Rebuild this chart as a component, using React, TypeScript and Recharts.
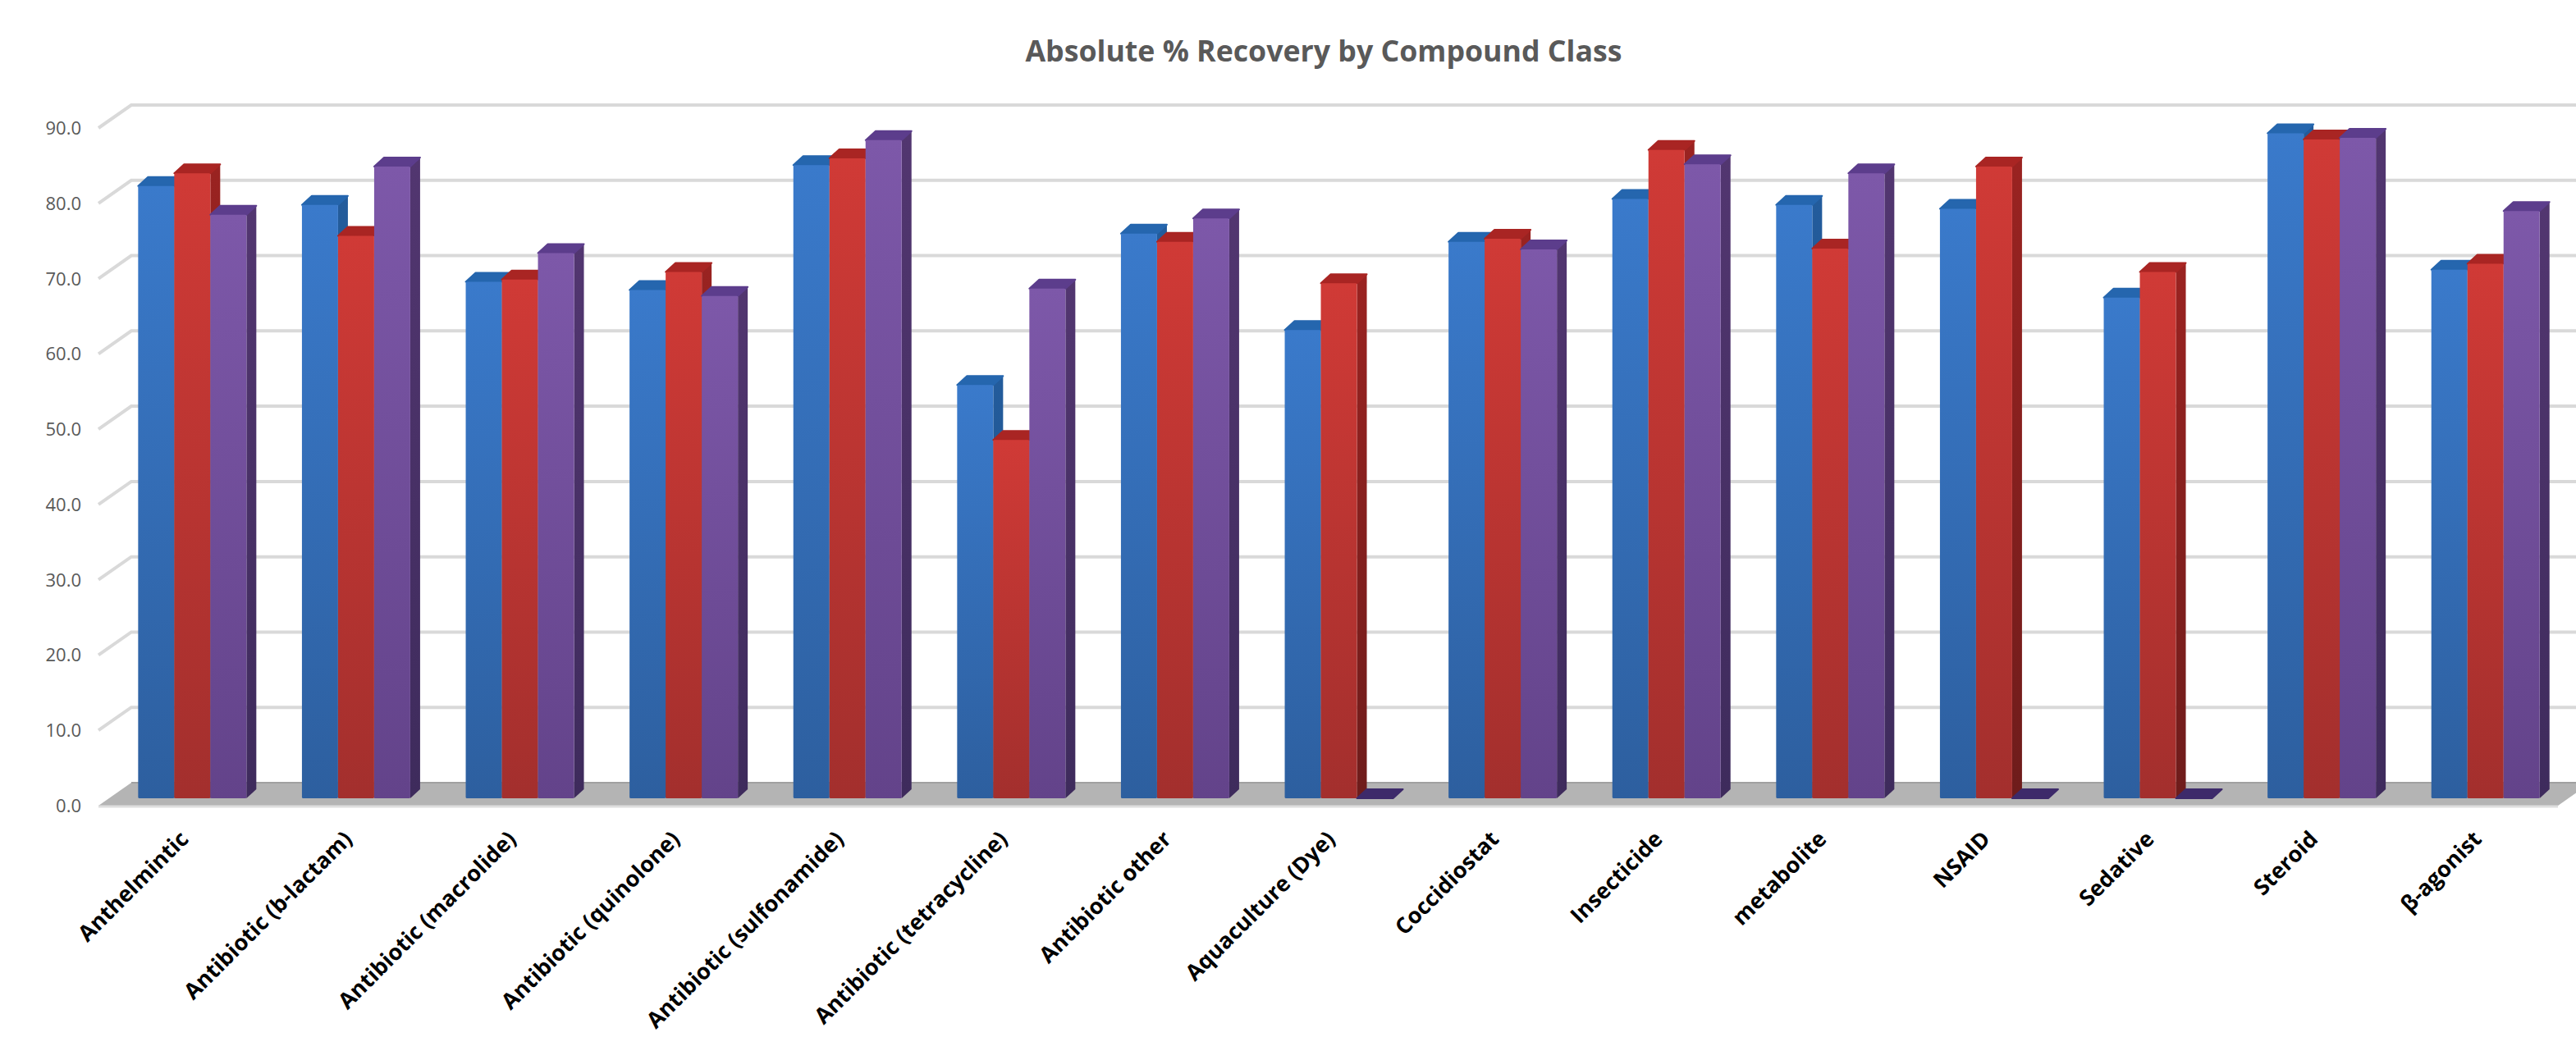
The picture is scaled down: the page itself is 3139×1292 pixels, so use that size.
import { BarChart, Bar, XAxis, YAxis, CartesianGrid } from "recharts";

const CATEGORIES = [
  "Anthelmintic",
  "Antibiotic (b-lactam)",
  "Antibiotic (macrolide)",
  "Antibiotic (quinolone)",
  "Antibiotic (sulfonamide)",
  "Antibiotic (tetracycline)",
  "Antibiotic other",
  "Aquaculture (Dye)",
  "Coccidiostat",
  "Insecticide",
  "metabolite",
  "NSAID",
  "Sedative",
  "Steroid",
  "β-agonist",
];
const BLUE_VALUES = [81.3, 78.8, 68.6, 67.5, 84.1, 54.9, 75.0, 62.2, 73.9, 79.6, 78.8, 78.3, 66.5, 88.3, 70.2];
const RED_VALUES = [83.0, 74.7, 68.9, 69.9, 85.0, 47.6, 73.9, 68.4, 74.3, 86.1, 73.0, 83.9, 69.9, 87.5, 71.0];
const PURPLE_VALUES = [77.5, 83.9, 72.4, 66.7, 87.4, 67.7, 77.0, 0, 72.9, 84.2, 83.0, 0, 0, 87.7, 78.0];
const Y_TICKS = [0, 10, 20, 30, 40, 50, 60, 70, 80, 90];

const rows = CATEGORIES.map((name, i) => ({
  name,
  blue: BLUE_VALUES[i],
  red: RED_VALUES[i],
  purple: PURPLE_VALUES[i],
}));

const SERIES = [
  { key: "blue", top: "#2566ae", sideTop: "#235c9c", sideBottom: "#1f4a80", light: "#3a7acb", dark: "#2d5f9f" },
  { key: "red", top: "#a92523", sideTop: "#9a2321", sideBottom: "#6e1c1b", light: "#d03a36", dark: "#a32f2d" },
  { key: "purple", top: "#5c3d8c", sideTop: "#523670", sideBottom: "#3e2b5c", light: "#7d58a9", dark: "#63438a" },
];

// extrusion of a bar and of the floor/wall
const BAR_DX = 12;
const BAR_DY = 11;
const WALL_BACK_X = 25;
const WALL_BACK_Y = 19;
const WALL_FRONT_X = 15;
const WALL_FRONT_Y = 9;
const PLOT_BOTTOM = 973;

function Bar3D(props: any) {
  const { x, y, width, height, fill, top, sideId } = props;
  const flat = height < 1;
  const edge = { strokeWidth: 2, strokeLinejoin: "round" as const };
  return (
    <g>
      {!flat && (
        <polygon
          points={`${x + width},${y} ${x + width + BAR_DX},${y - BAR_DY} ${x + width + BAR_DX},${y + height - BAR_DY} ${x + width},${y + height}`}
          fill={`url(#${sideId})`}
        />
      )}
      <polygon
        points={`${x},${y} ${x + BAR_DX},${y - BAR_DY} ${x + width + BAR_DX},${y - BAR_DY} ${x + width},${y}`}
        fill={flat ? "#3d2a6a" : top}
        stroke={flat ? "#3d2a6a" : top}
        {...edge}
      />
      {!flat && <rect x={x} y={y} width={width} height={height} rx={1.5} fill={fill} />}
    </g>
  );
}

// gridline runs along the back wall and folds forward down the left side
function WallLine(props: any) {
  const { x1, x2, y1 } = props;
  const backY = y1 - WALL_BACK_Y;
  const frontY = y1 + WALL_FRONT_Y;
  const leftFront = x1 - WALL_FRONT_X;
  const leftBack = x1 + WALL_BACK_X;
  const rightFront = x2 - 12;
  const rightBack = rightFront + WALL_BACK_X + WALL_FRONT_X;
  const line = (
    <polyline
      points={`${leftFront},${frontY} ${leftBack},${backY} ${rightBack},${backY}`}
      fill="none"
      stroke="#d9d9d9"
      strokeWidth={4}
    />
  );
  if (Math.abs(y1 - PLOT_BOTTOM) > 1) return line;
  return (
    <g>
      <polygon
        points={`${leftFront},${frontY} ${leftBack},${backY} ${rightBack},${backY} ${rightFront},${frontY}`}
        fill="#b4b4b4"
      />
      <line x1={leftBack} y1={backY} x2={rightBack} y2={backY} stroke="#a0a0a0" strokeWidth={2} />
      <line x1={leftFront} y1={frontY + 1} x2={rightFront} y2={frontY + 1} stroke="#dedede" strokeWidth={3} />
    </g>
  );
}

function ValueTick(props: any) {
  const { x, y, payload } = props;
  return (
    <text
      x={x - 28}
      y={y + WALL_FRONT_Y - 1}
      textAnchor="end"
      dominantBaseline="central"
      fontFamily="'Open Sans', sans-serif"
      fontSize={22}
      fill="#595959"
    >
      {payload.value.toFixed(1)}
    </text>
  );
}

function CategoryTick(props: any) {
  const { x, y, payload } = props;
  const tx = x - 11;
  const ty = y + 36;
  return (
    <text
      x={tx}
      y={ty}
      transform={`rotate(-45 ${tx} ${ty})`}
      textAnchor="end"
      dominantBaseline="central"
      fontFamily="'Open Sans', sans-serif"
      fontWeight={700}
      fontSize={27}
      fill="#000000"
    >
      {payload.value}
    </text>
  );
}

export default function App() {
  return (
    <div style={{ position: "absolute", left: 0, top: 0, width: 3139, height: 1292, background: "#fff" }}>
      <div
        style={{
          position: "absolute",
          left: 0,
          top: 37,
          width: 3226,
          textAlign: "center",
          fontFamily: "'Open Sans', sans-serif",
          fontWeight: 700,
          fontSize: 35.7,
          color: "#595959",
        }}
      >
        Absolute % Recovery by Compound Class
      </div>
      <BarChart
        width={3139}
        height={1292}
        data={rows}
        barGap={0}
        barCategoryGap="16.7%"
        margin={{ top: 147, right: 10, bottom: 19, left: 75 }}
      >
        <defs>
          {SERIES.map((s) => (
            <linearGradient key={s.key} id={`face-${s.key}`} x1="0" y1="0" x2="0" y2="1">
              <stop offset="0%" stopColor={s.light} />
              <stop offset="100%" stopColor={s.dark} />
            </linearGradient>
          ))}
          {SERIES.map((s) => (
            <linearGradient key={s.key} id={`side-${s.key}`} x1="0" y1="0" x2="0" y2="1">
              <stop offset="0%" stopColor={s.sideTop} />
              <stop offset="100%" stopColor={s.sideBottom} />
            </linearGradient>
          ))}
        </defs>
        <CartesianGrid vertical={false} horizontal={(p: any) => <WallLine key={p.key} {...p} />} />
        <XAxis dataKey="name" interval={0} height={300} axisLine={false} tickLine={false} tick={CategoryTick} />
        <YAxis width={60} domain={[0, 90]} ticks={Y_TICKS} axisLine={false} tickLine={false} tick={ValueTick} />
        {SERIES.map((s) => (
          <Bar
            key={s.key}
            dataKey={s.key}
            fill={`url(#face-${s.key})`}
            isAnimationActive={false}
            shape={(p: any) => <Bar3D {...p} top={s.top} sideId={`side-${s.key}`} />}
          />
        ))}
      </BarChart>
    </div>
  );
}
